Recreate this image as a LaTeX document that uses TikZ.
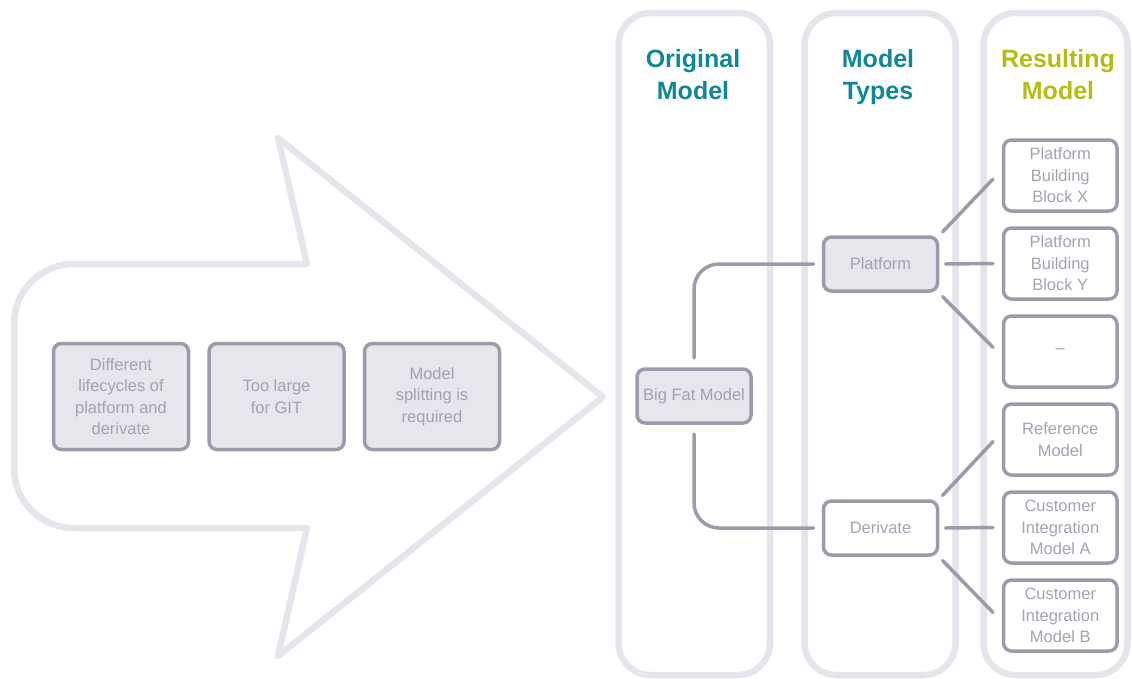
\documentclass[tikz,border=0pt]{standalone}
\usepackage{fontspec}
\setmainfont{Liberation Sans}
\usepackage{xcolor}
\usepackage{tikz}

\definecolor{lgray}{RGB}{229,229,235}
\definecolor{bgray}{RGB}{156,155,172}
\definecolor{tgray}{RGB}{163,162,177}
\definecolor{fgray}{RGB}{230,230,236}
\definecolor{hteal}{RGB}{16,134,153}
\definecolor{hlime}{RGB}{180,189,22}

\tikzset{
 colframe/.style={draw=lgray, line width=6.5pt, rounded corners=32pt},
 arrowline/.style={draw=lgray, line width=6.5pt, line join=round},
 box/.style={draw=bgray, line width=3.5pt, rounded corners=8pt, text=tgray,
  font=\fontsize{16.5}{21.5}\selectfont, align=center, outer sep=0pt, inner sep=2pt},
 fbox/.style={box, fill=fgray},
 conn/.style={draw=bgray, line width=3.5pt, line cap=round},
 head/.style={font=\fontsize{25}{32}\selectfont\bfseries, align=center, anchor=north, inner sep=0pt}
}

\begin{document}
\begin{tikzpicture}[x=1pt, y=-1pt]
 \useasboundingbox (0,0) rectangle (1132,678);

\draw[colframe] (618.5,13) rectangle (770,675);
\draw[colframe] (804.5,13) rectangle (955.5,675);
\draw[colframe] (983.5,13) rectangle (1127.5,675);

\draw[arrowline, rounded corners=60] (160,528) -- (14,528) -- (14,264) -- (160,264)
 [sharp corners] -- (307,264) -- (278,138) -- (603,397) -- (278,656) -- (307,528) -- cycle;

\node [head, text=hteal] (h1) at (693,49) {Original\\Model};
\node [head, text=hteal] (h2) at (878,49) {Model\\Types};
\node [head, text=hlime] (h3) at (1058,49) {Resulting\\Model};

\node [fbox, minimum width=135, minimum height=106] (a1) at (121,396.5) {Different\\lifecycles of\\platform and\\derivate};
\node [fbox, minimum width=135, minimum height=106] (a2) at (276.5,396.5) {Too large\\for GIT};
\node [fbox, minimum width=135, minimum height=106] (a3) at (432,396.5) {Model\\splitting is\\required};

\node [fbox, minimum width=114, minimum height=54] (bfm) at (694,396) {Big Fat Model};
\node [fbox, minimum width=114, minimum height=54] (pf) at (880.5,264) {Platform};
\node [box, minimum width=114, minimum height=54] (dv) at (880.5,528) {Derivate};

\node [box, minimum width=113.5, minimum height=71] (r1) at (1060.25,175.5) {Platform\\Building\\Block X};
\node [box, minimum width=113.5, minimum height=71] (r2) at (1060.25,263.5) {Platform\\Building\\Block Y};
\node [box, minimum width=113.5, minimum height=71] (r3) at (1060.25,351.5) {–};
\node [box, minimum width=113.5, minimum height=71] (r4) at (1060.25,439.5) {Reference\\Model};
\node [box, minimum width=113.5, minimum height=71] (r5) at (1060.25,527.5) {Customer\\Integration\\Model A};
\node [box, minimum width=113.5, minimum height=71] (r6) at (1060.25,615.5) {Customer\\Integration\\Model B};

\draw[conn, rounded corners=25] ([shift={(0,-11)}]bfm.north) |- ([shift={(-10,0)}]pf.west);
\draw[conn, rounded corners=25] ([shift={(0,11)}]bfm.south) |- ([shift={(-10,0)}]dv.west);

\draw[conn] ([shift={(5,-5)}]pf.north east) -- ([shift={(-10.5,3.5)}]r1.west);
\draw[conn] ([shift={(8,0)}]pf.east) -- ([shift={(-10.5,0)}]r2.west);
\draw[conn] ([shift={(5,5.5)}]pf.south east) -- ([shift={(-10.5,-4)}]r3.west);

\draw[conn] ([shift={(5,-5.5)}]dv.north east) -- ([shift={(-10.5,2)}]r4.west);
\draw[conn] ([shift={(8,0)}]dv.east) -- ([shift={(-10.5,0)}]r5.west);
\draw[conn] ([shift={(5,5.5)}]dv.south east) -- ([shift={(-10.5,-3)}]r6.west);

\end{tikzpicture}
\end{document}
